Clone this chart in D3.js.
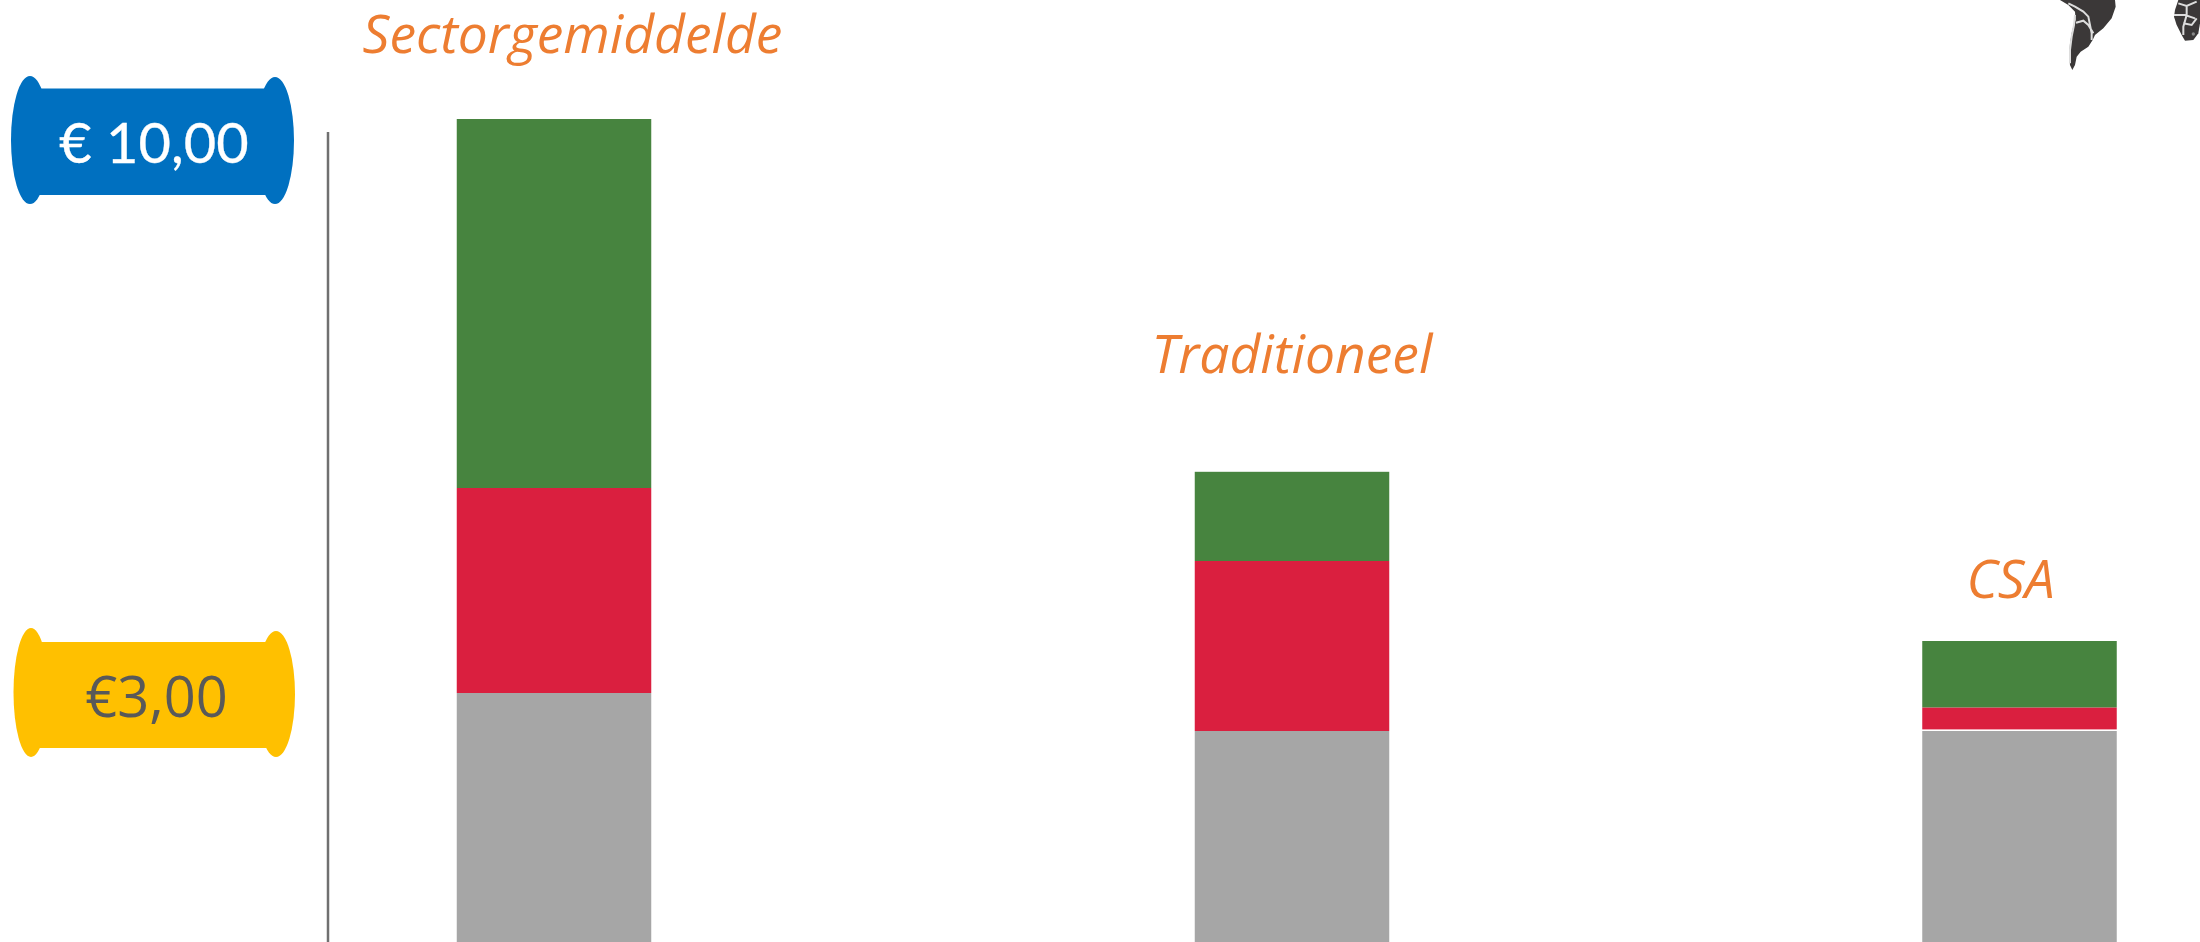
<!DOCTYPE html>
<html><head><meta charset="utf-8">
<script src="https://cdn.jsdelivr.net/npm/d3@7/dist/d3.min.js"></script>
<style>html,body{margin:0;padding:0;background:#fff;overflow:hidden}svg{display:block}</style>
</head><body><svg id="c" width="2200" height="942"></svg>
<script>
const categories = ["Sectorgemiddelde", "Traditioneel", "CSA"];
const grey  = [3.1125, 2.6375, 2.6375];
const gap   = [0, 0, 0.02];
const red   = [2.5625, 2.125, 0.275];
const green = [4.6125, 1.115, 0.83];
const seriesNames = ["grey", "gap", "red", "green"];
const seriesValues = [grey, gap, red, green];
const seriesColors = ["#A6A6A6", "#FFFFFF", "#DA1F3F", "#47843F"];
const pillLabels = ["€ 10,00", "€3,00"];

const svg = d3.select("#c");
const y = d3.scaleLinear().domain([0, 10]).range([942, 142]);
const xPos = d3.scaleOrdinal().domain(categories).range([554, 1292, 2019.5]);
const barW = 194.5;

// Stacks
const rows = categories.map((c, i) => {
  const r = {cat: c};
  seriesNames.forEach((s, j) => r[s] = seriesValues[j][i]);
  return r;
});
const stacked = d3.stack().keys(seriesNames)(rows);
svg.selectAll("g.s").data(stacked).join("g").attr("class", "s")
  .attr("fill", (d, i) => seriesColors[i])
  .selectAll("rect").data(d => d).join("rect")
  .attr("x", d => xPos(d.data.cat) - barW / 2)
  .attr("width", barW)
  .attr("y", d => y(d[1]))
  .attr("height", d => y(d[0]) - y(d[1]));

// Category labels
const labelX = [572.5, 1292, 2010.5];
const labelY = [52.5, 373, 598];
svg.selectAll("text.cat").data(categories).join("text").attr("class", "cat")
  .attr("x", (d, i) => labelX[i]).attr("y", (d, i) => labelY[i])
  .attr("text-anchor", "middle")
  .attr("font-family", "'Open Sans'").attr("font-style", "italic").attr("font-weight", 400)
  .attr("font-size", 53.4).attr("fill", "#ED7D31").text(d => d);

// Axis line
svg.append("line").attr("x1", 328).attr("x2", 328).attr("y1", 132).attr("y2", 942)
  .attr("stroke", "#707070").attr("stroke-width", 2.5);

// Pills
function pill(g, o) {
  g.append("ellipse").attr("cx", o.lx).attr("cy", o.lcy).attr("rx", o.lrx).attr("ry", o.lry).attr("fill", o.fill);
  g.append("ellipse").attr("cx", o.rx).attr("cy", o.rcy).attr("rx", o.rrx).attr("ry", o.rry).attr("fill", o.fill);
  g.append("rect").attr("x", o.lx).attr("width", o.rx - o.lx).attr("y", o.top).attr("height", o.bot - o.top).attr("fill", o.fill);
  g.append("text").attr("x", o.tx).attr("y", o.ty).attr("text-anchor", "middle")
    .attr("font-family", o.font).attr("font-size", o.size).attr("fill", o.color)
    .attr("stroke", o.color).attr("stroke-width", o.sw).text(o.label);
}
pill(svg.append("g"), {fill:"#0070C0", lx:30, lcy:140, lrx:19, lry:64, rx:275, rcy:140.5, rrx:19, rry:63.5, top:88.5, bot:195,
  tx:154, ty:163, font:"Lato", size:56, sw:0.3, color:"#FFFFFF", label:pillLabels[0]});
pill(svg.append("g"), {fill:"#FFC000", lx:31, lcy:692.5, lrx:17.5, lry:64.5, rx:276, rcy:694, rrx:19, rry:63, top:642, bot:748,
  tx:156.5, ty:717, font:"'Open Sans'", size:56, sw:0, color:"#595959", label:pillLabels[1]});

// Map fragment (decoration cropped at the top right)
const defs = svg.append("defs");
defs.append("filter").attr("id", "soft").append("feGaussianBlur").attr("stdDeviation", 0.5);
const landColor = "#3A3837", borderColor = "#DDDDDD";
const map = svg.append("g").attr("filter", "url(#soft)");
const sa = map.append("g").attr("transform", "translate(2050,0) scale(0.3333)");
sa.append("path").attr("fill", landColor)
  .attr("d", "M30,0L55,15L75,35L77,60L72,70L65,100L60,130L58,165L60,195L67,210L75,195L80,170L92,155L115,140L128,120L135,105L160,85L185,55L197,20L195,0Z");
sa.append("path").attr("fill", "none").attr("stroke", borderColor).attr("stroke-width", 6)
  .attr("d", "M55,10L75,20L100,35L115,50L125,100L125,120M75,45L72,75L65,110L60,150L60,190M78,68L100,62L115,75L130,100");
const af = map.append("g").attr("transform", "translate(2150,0) scale(0.3333)");
af.append("path").attr("fill", landColor)
  .attr("d", "M85,0L75,30L72,50L80,75L95,105L105,122L130,120L145,100L150,70L150,0Z");
af.append("path").attr("fill", "none").attr("stroke", borderColor).attr("stroke-width", 6)
  .attr("d", "M85,10L110,18L140,5M72,45L105,45L135,55M110,18L110,45L100,80L100,105M100,70L125,75L140,55");
af.append("circle").attr("cx", 130).attr("cy", 102).attr("r", 5).attr("fill", "#888888");
</script></body></html>
